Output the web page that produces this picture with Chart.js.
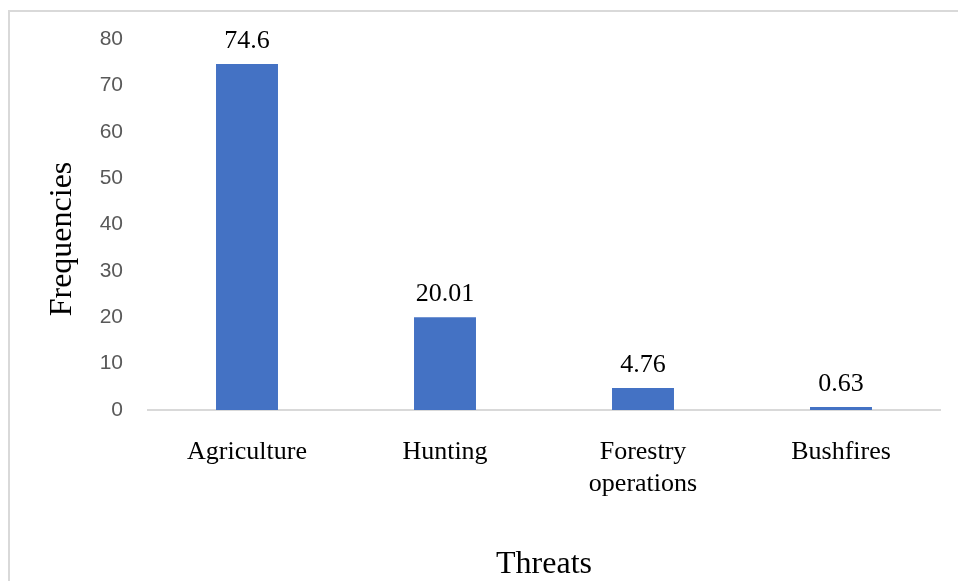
<!DOCTYPE html>
<html>
<head>
<meta charset="utf-8">
<script src="https://cdn.jsdelivr.net/npm/chart.js@4.4.1/dist/chart.umd.min.js"></script>
<style>
  html, body { margin: 0; padding: 0; background: #fff; }
  #frame { position: absolute; left: 8px; top: 10px; right: -4px; bottom: -4px;
           border-top: 2px solid #d9d9d9; border-left: 2px solid #d9d9d9; }
  #wrap { position: absolute; left: 0; top: 0; width: 958px; height: 581px; }
</style>
</head>
<body>
<div id="frame"></div>
<div id="wrap"><canvas id="chart" width="958" height="581"></canvas></div>
<script>
// categorías y valores
const threats = [['Agriculture'], ['Hunting'], ['Forestry', 'operations'], ['Bushfires']];
const frequencies = [74.6, 20.01, 4.76, 0.63];
const valueLabels = ['74.6', '20.01', '4.76', '0.63'];
const yTicks = [0, 10, 20, 30, 40, 50, 60, 70, 80];

const SERIF = '"Liberation Serif", "Times New Roman", serif';

// etiquetas de valor sobre cada barra + título del eje Y
const barLabels = {
  id: 'barLabels',
  afterDatasetsDraw(chart) {
    const ctx = chart.ctx;
    const meta = chart.getDatasetMeta(0);
    ctx.save();
    ctx.fillStyle = '#000';
    ctx.font = '26px ' + SERIF;
    ctx.textAlign = 'center';
    ctx.textBaseline = 'alphabetic';
    meta.data.forEach((bar, i) => {
      ctx.fillText(valueLabels[i], bar.x, bar.y - 16);
    });
    // título eje Y
    ctx.translate(63, 239);
    ctx.rotate(-Math.PI / 2);
    ctx.font = '32px ' + SERIF;
    ctx.textBaseline = 'middle';
    ctx.fillText('Frequencies', 0, 0);
    ctx.restore();
  }
};

new Chart(document.getElementById('chart').getContext('2d'), {
  type: 'bar',
  data: {
    labels: threats,
    datasets: [{
      data: frequencies,
      backgroundColor: '#4472c4',
      barPercentage: 1,
      categoryPercentage: 0.313,
    }]
  },
  options: {
    responsive: false, animation: false,
    layout: { padding: { left: 0, top: 39, right: 18, bottom: 0 } },
    plugins: { legend: { display: false }, tooltip: { enabled: false } },
    scales: {
      x: {
        grid: { display: false, drawTicks: false },
        border: { display: true, color: '#d9d9d9', width: 2 },
        ticks: { color: '#000', font: { family: SERIF, size: 26 }, padding: 27, maxRotation: 0 },
        title: { display: true, text: 'Threats', color: '#000',
                 font: { family: SERIF, size: 32, lineHeight: 1.0 }, padding: 0 },
        afterFit: s => { s.height = 171; }
      },
      y: {
        min: 0, max: 80,
        afterBuildTicks: s => { s.ticks = yTicks.map(v => ({ value: v })); },
        grid: { display: false, drawTicks: false },
        border: { display: false },
        ticks: { color: '#595959', font: { family: '"Liberation Sans", Arial, sans-serif', size: 21 }, padding: 25 },
        afterFit: s => { s.width = 148; }
      }
    }
  },
  plugins: [barLabels]
});
</script>
</body>
</html>
